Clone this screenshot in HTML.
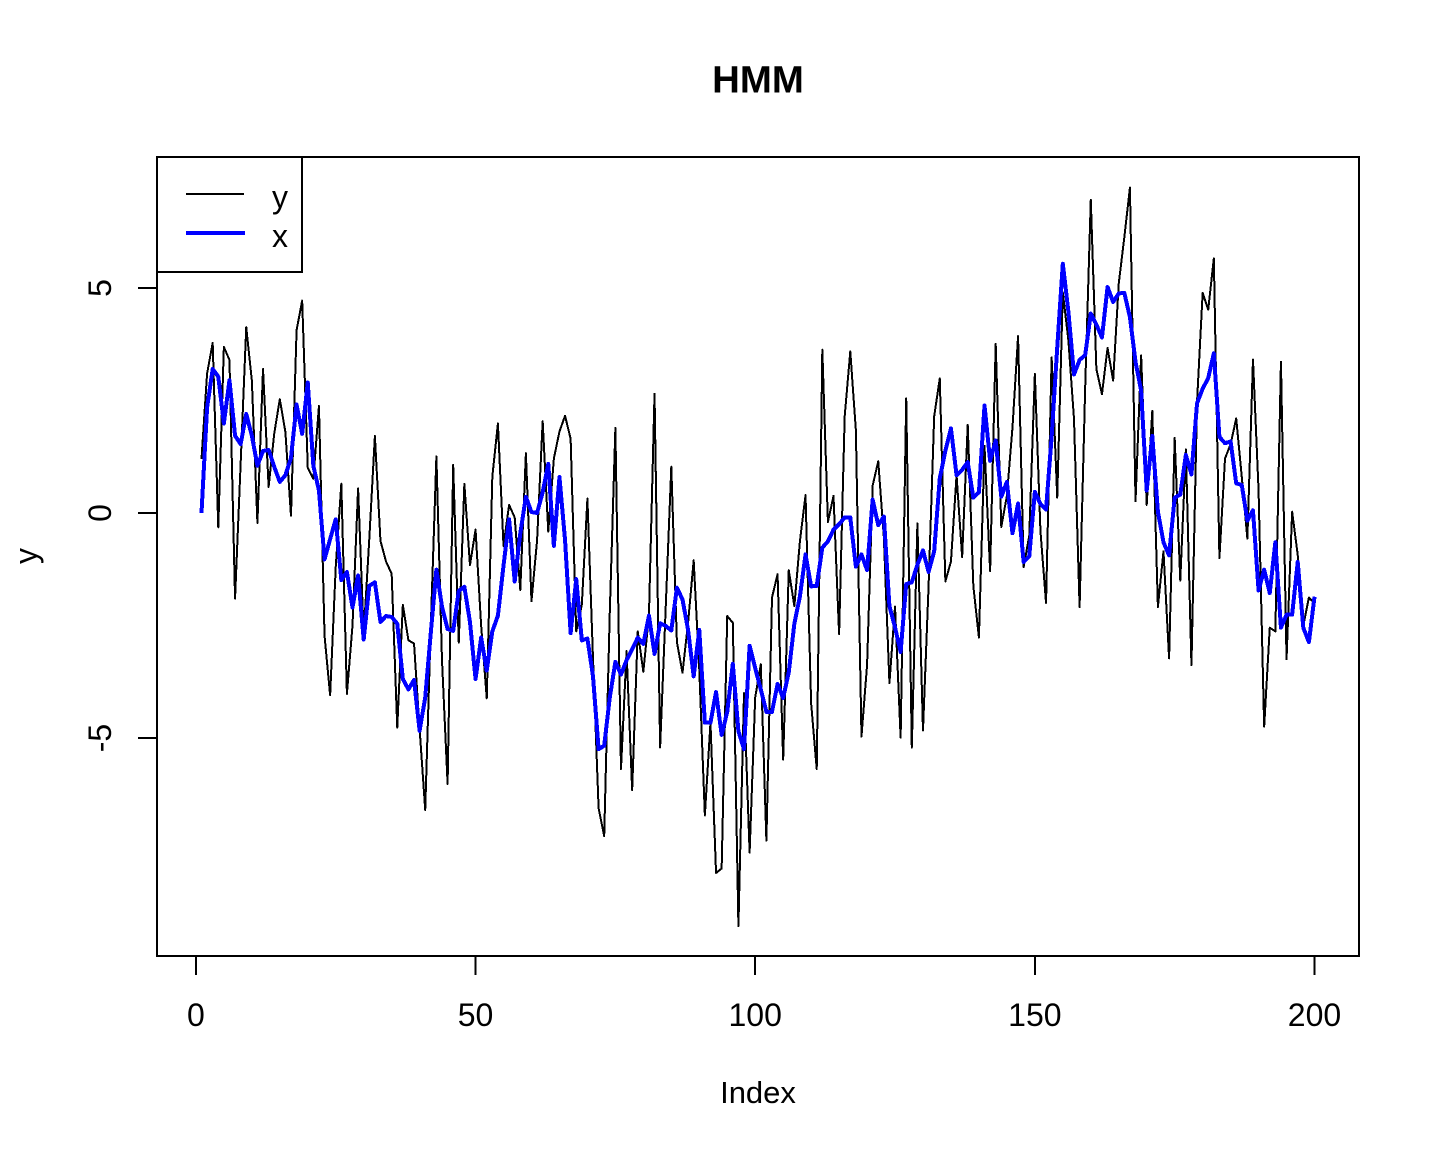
<!DOCTYPE html>
<html lang="en">
<head>
<meta charset="utf-8">
<title>HMM</title>
<style>
html,body{margin:0;padding:0;background:#fff;}
svg{display:block;}
text{font-family:"Liberation Sans",Arial,sans-serif;fill:#000;}
</style>
</head>
<body>
<svg id="chart" xmlns="http://www.w3.org/2000/svg" width="1440" height="1152" viewBox="0 0 1440 1152">
<rect x="0" y="0" width="1440" height="1152" fill="#fff"/>
<text x="758" y="92.5" font-size="38.4" font-weight="bold" text-anchor="middle">HMM</text>
<text x="758" y="1103" font-size="31" text-anchor="middle">Index</text>
<text x="37" y="556" font-size="32" text-anchor="middle" transform="rotate(-90 37 556)" dy="0"><tspan>y</tspan></text>
<g id="series-layer"></g>
<g id="axis-layer"></g>
<rect x="157" y="157" width="1202" height="799" fill="none" stroke="#000" stroke-width="2" shape-rendering="crispEdges"/>
<g>
<rect x="157" y="157" width="145" height="115" fill="#fff" stroke="#000" stroke-width="2" shape-rendering="crispEdges"/>
<line x1="186" y1="194" x2="244" y2="194" stroke="#000" stroke-width="2" shape-rendering="crispEdges"/>
<line x1="186" y1="233" x2="245" y2="233" stroke="#0000ff" stroke-width="4" shape-rendering="crispEdges"/>
<text x="272" y="208" font-size="32">y</text>
<text x="272" y="247" font-size="32">x</text>
</g>
</svg>
<script>
const xTickValues = [0, 50, 100, 150, 200];
const yTickValues = [-5, 0, 5];
const seriesY = [
1.2,3.1,3.78,-0.32,3.69,3.4,-1.9,1.1,4.13,2.95,
-0.22,3.2,0.58,1.76,2.53,1.8,-0.06,4.06,4.72,1.01,
0.76,2.38,-2.73,-4.05,-1.2,0.65,-4.02,-2.5,0.55,-2.7,
-0.58,1.71,-0.62,-1.08,-1.35,-4.77,-2.04,-2.83,-2.9,-4.8,
-6.6,-2.5,1.26,-3.27,-6.02,1.07,-2.88,0.65,-1.16,-0.37,
-2.5,-4.12,0.81,1.99,-0.73,0.18,-0.1,-1.71,1.33,-1.96,
-0.61,2.04,-0.41,1.21,1.81,2.16,1.65,-2.63,-2.04,0.32,
-3.23,-6.56,-7.18,-2.2,1.89,-5.69,-3.07,-6.16,-2.63,-3.53,
-2.28,2.65,-5.21,-2.1,1.03,-2.87,-3.55,-2.44,-1.05,-3.47,
-6.72,-4.66,-8.0,-7.9,-2.29,-2.44,-9.18,-4.0,-7.55,-4.1,
-3.36,-7.28,-1.88,-1.36,-5.48,-1.27,-2.07,-0.62,0.4,-4.23,
-5.69,3.63,-0.2,0.38,-2.69,2.15,3.59,1.84,-4.97,-3.38,
0.61,1.15,-0.54,-3.78,-2.08,-4.99,2.55,-5.21,-0.23,-4.83,
-1.62,2.15,2.99,-1.52,-1.08,0.84,-0.98,1.96,-1.62,-2.77,
1.49,-1.29,3.76,-0.31,0.38,1.9,3.93,-1.2,-0.5,3.09,
-0.4,-2.0,3.46,0.34,4.9,3.83,2.09,-2.09,2.8,6.96,
3.2,2.64,3.67,2.94,5.1,6.13,7.23,0.26,3.5,0.18,
2.27,-2.09,-0.85,-3.23,1.67,-1.5,1.41,-3.38,2.48,4.89,
4.52,5.66,-1.0,1.21,1.53,2.1,0.8,-0.57,3.41,0.5,
-4.75,-2.55,-2.63,3.36,-3.25,0.03,-0.93,-2.5,-1.88,-2.0
];
const seriesX = [
0.0,2.34,3.2,3.03,1.99,2.95,1.72,1.53,2.2,1.72,
1.05,1.38,1.4,1.03,0.69,0.84,1.22,2.41,1.76,2.9,
1.05,0.5,-1.03,-0.58,-0.14,-1.49,-1.31,-2.1,-1.39,-2.81,
-1.62,-1.54,-2.42,-2.29,-2.31,-2.46,-3.69,-3.92,-3.71,-4.84,
-4.1,-2.66,-1.26,-2.08,-2.58,-2.62,-1.73,-1.64,-2.42,-3.69,
-2.77,-3.5,-2.63,-2.28,-1.17,-0.14,-1.52,-0.45,0.36,0.02,
0.0,0.46,1.09,-0.73,0.8,-0.6,-2.67,-1.47,-2.83,-2.79,
-3.63,-5.25,-5.17,-4.1,-3.31,-3.59,-3.27,-3.03,-2.77,-2.91,
-2.28,-3.13,-2.45,-2.51,-2.61,-1.66,-1.92,-2.6,-3.63,-2.6,
-4.66,-4.66,-3.98,-4.93,-4.42,-3.35,-4.85,-5.25,-2.95,-3.45,
-3.92,-4.42,-4.42,-3.8,-4.11,-3.54,-2.46,-1.85,-0.92,-1.63,
-1.62,-0.77,-0.63,-0.37,-0.25,-0.1,-0.1,-1.19,-0.92,-1.27,
0.3,-0.27,-0.08,-2.07,-2.54,-3.09,-1.58,-1.54,-1.15,-0.83,
-1.31,-0.85,0.77,1.38,1.88,0.84,0.96,1.13,0.34,0.46,
2.39,1.16,1.61,0.36,0.69,-0.45,0.21,-1.09,-0.96,0.47,
0.2,0.08,1.69,3.67,5.54,4.47,3.08,3.4,3.51,4.43,
4.19,3.9,5.02,4.69,4.88,4.89,4.35,3.36,2.72,0.5,
1.71,0.03,-0.65,-0.94,0.34,0.41,1.29,0.86,2.44,2.76,
3.0,3.55,1.69,1.55,1.59,0.66,0.62,-0.17,0.06,-1.72,
-1.26,-1.78,-0.65,-2.55,-2.26,-2.26,-1.09,-2.55,-2.87,-1.86
];

const svgNS = 'http://www.w3.org/2000/svg';
const scaleX = v => 195.9 + 5.593 * v;
const scaleY = v => 513 - 45 * v;
const seriesLayer = document.getElementById('series-layer');
const axisLayer = document.getElementById('axis-layer');

function pointsFor(values) {
  return values.map((v, i) => scaleX(i + 1).toFixed(2) + ',' + scaleY(v).toFixed(2)).join(' ');
}
function makeLine(x1, y1, x2, y2) {
  const l = document.createElementNS(svgNS, 'line');
  l.setAttribute('x1', x1);
  l.setAttribute('y1', y1);
  l.setAttribute('x2', x2);
  l.setAttribute('y2', y2);
  l.setAttribute('stroke', '#000');
  l.setAttribute('stroke-width', '2');
  l.setAttribute('shape-rendering', 'crispEdges');
  return l;
}

const lineY = document.createElementNS(svgNS, 'polyline');


lineY.setAttribute('points', pointsFor(seriesY));
lineY.setAttribute('fill', 'none');
lineY.setAttribute('stroke', '#000');
lineY.setAttribute('stroke-width', '2');
lineY.setAttribute('stroke-linejoin', 'round');
lineY.setAttribute('shape-rendering', 'crispEdges');
seriesLayer.appendChild(lineY);

const lineX = document.createElementNS(svgNS, 'polyline');


lineX.setAttribute('points', pointsFor(seriesX));
lineX.setAttribute('fill', 'none');
lineX.setAttribute('stroke', '#0000ff');
lineX.setAttribute('stroke-width', '4');
lineX.setAttribute('stroke-linejoin', 'round');
lineX.setAttribute('shape-rendering', 'crispEdges');
seriesLayer.appendChild(lineX);

const xAxisLine = makeLine(scaleX(xTickValues[0]), 956, scaleX(xTickValues[xTickValues.length - 1]), 956);


axisLayer.appendChild(xAxisLine);

xTickValues.forEach(v => {
  const t = makeLine(scaleX(v), 956, scaleX(v), 975);
  
  
  axisLayer.appendChild(t);
  const label = document.createElementNS(svgNS, 'text');
  
  
  label.setAttribute('x', scaleX(v));
  label.setAttribute('y', 1026);
  label.setAttribute('font-size', '32');
  label.setAttribute('text-anchor', 'middle');
  label.textContent = String(v);
  axisLayer.appendChild(label);
});

const yAxisLine = makeLine(157, scaleY(yTickValues[0]), 157, scaleY(yTickValues[yTickValues.length - 1]));


axisLayer.appendChild(yAxisLine);

yTickValues.forEach(v => {
  const t = makeLine(138, scaleY(v), 157, scaleY(v));
  
  
  axisLayer.appendChild(t);
  const label = document.createElementNS(svgNS, 'text');
  
  
  label.setAttribute('x', 111);
  label.setAttribute('y', scaleY(v));
  label.setAttribute('font-size', '32');
  label.setAttribute('text-anchor', 'middle');
  label.setAttribute('transform', 'rotate(-90 111 ' + scaleY(v) + ')');
  label.textContent = String(v);
  axisLayer.appendChild(label);
});
</script>
</body>
</html>
